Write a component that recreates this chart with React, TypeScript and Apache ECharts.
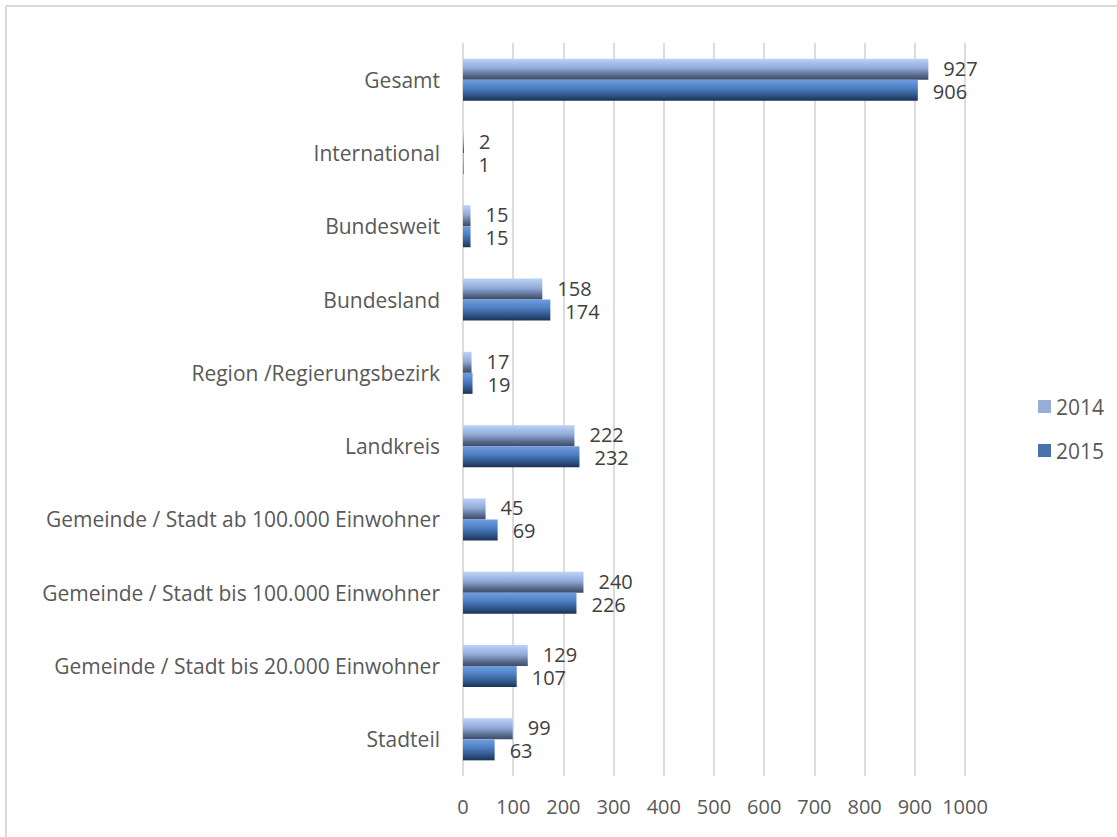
import React, { useEffect, useRef } from "react";
import * as echarts from "echarts";

const categories = [
  "Gesamt",
  "International",
  "Bundesweit",
  "Bundesland",
  "Region /Regierungsbezirk",
  "Landkreis",
  "Gemeinde / Stadt ab 100.000 Einwohner",
  "Gemeinde / Stadt bis 100.000 Einwohner",
  "Gemeinde / Stadt bis 20.000 Einwohner",
  "Stadteil",
];
const values2014 = [927, 2, 15, 158, 17, 222, 45, 240, 129, 99];
const values2015 = [906, 1, 15, 174, 19, 232, 69, 226, 107, 63];
const seriesNames = ["2014", "2015"];
const xTicks = [0, 100, 200, 300, 400, 500, 600, 700, 800, 900, 1000];

const FONT = "'Open Sans', sans-serif";

export default function App() {
  const ref = useRef<HTMLDivElement>(null);
  useEffect(() => {
    document.body.style.margin = "0";
    const chart = echarts.init(ref.current!, null, { renderer: "svg" });
    const grad2014 = new echarts.graphic.LinearGradient(0, 0, 0, 1, [
      { offset: 0, color: "#bcd3f8" },
      { offset: 0.45, color: "#91aad8" },
      { offset: 0.8, color: "#57698a" },
      { offset: 1, color: "#3d4a62" },
    ]);
    const grad2015 = new echarts.graphic.LinearGradient(0, 0, 0, 1, [
      { offset: 0, color: "#6f9ee0" },
      { offset: 0.4, color: "#4d7fc2" },
      { offset: 0.8, color: "#2b4f80" },
      { offset: 1, color: "#1b3153" },
    ]);
    const valueLabel = (dy: number) => ({
      show: true,
      position: "right",
      distance: 15,
      offset: [0, dy],
      fontSize: 20,
      lineHeight: 20,
      color: "#404040",
      fontFamily: FONT,
    });
    chart.setOption({
      animation: false,
      textStyle: { fontFamily: FONT },
      graphic: [
        { type: "line", shape: { x1: 6, y1: 6, x2: 1117, y2: 6 }, style: { stroke: "#d9d9d9", lineWidth: 2 } },
        { type: "line", shape: { x1: 6, y1: 6, x2: 6, y2: 837 }, style: { stroke: "#d9d9d9", lineWidth: 2 } },
      ],
      grid: { left: 463, right: 152, top: 43, bottom: 61, containLabel: false },
      legend: {
        orient: "vertical",
        left: 1033,
        top: 391,
        itemWidth: 13,
        itemHeight: 13,
        itemGap: 23,
        textStyle: { fontSize: 21, color: "#595959", fontFamily: FONT },
        data: [
          { name: seriesNames[0], icon: "rect", itemStyle: { color: "#97aed6" } },
          { name: seriesNames[1], icon: "rect", itemStyle: { color: "#4a72aa" } },
        ],
      },
      xAxis: {
        type: "value",
        min: xTicks[0],
        max: xTicks[xTicks.length - 1],
        interval: 100,
        axisLine: { show: false },
        axisTick: { show: false },
        splitLine: { show: true, lineStyle: { color: "#dcdcdc", width: 2 } },
        axisLabel: { fontSize: 20, color: "#595959", margin: 20, fontFamily: FONT, formatter: (v: number) => String(v) },
      },
      yAxis: {
        type: "category",
        data: categories,
        inverse: true,
        axisLine: { show: false },
        axisTick: { show: false },
        axisLabel: { fontSize: 21, color: "#595959", margin: 23, fontFamily: FONT },
      },
      series: [
        {
          name: seriesNames[0],
          type: "bar",
          data: values2014,
          barWidth: 21,
          barGap: "0%",
          itemStyle: { color: grad2014 },
          label: valueLabel(-1),
        },
        {
          name: seriesNames[1],
          type: "bar",
          data: values2015,
          barWidth: 21,
          barGap: "0%",
          itemStyle: { color: grad2015 },
          label: valueLabel(1),
        },
      ],
    });
    return () => chart.dispose();
  }, []);
  return <div ref={ref} style={{ width: 1117, height: 837 }} />;
}
